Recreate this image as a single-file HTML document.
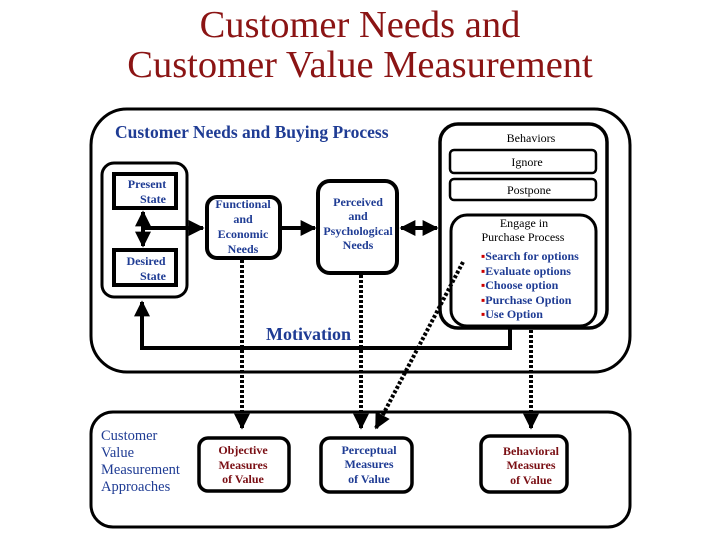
<!DOCTYPE html>
<html><head><meta charset="utf-8"><style>
body{margin:0;background:#fff;width:720px;height:540px;overflow:hidden}
text{font-family:"Liberation Serif",serif}
.n{fill:#1f3c94;font-weight:bold;font-size:12px}
.r{fill:#7a0f14;font-weight:bold;font-size:12px}
.k{fill:#000;font-size:12px}
</style></head><body>
<svg width="720" height="540" viewBox="0 0 720 540" xmlns="http://www.w3.org/2000/svg">
<defs>
<marker id="a" viewBox="0 0 10 10" refX="9" refY="5" markerWidth="4" markerHeight="4" orient="auto-start-reverse"><path d="M0,0L10,5L0,10z" fill="#000"/></marker>
</defs>
<text x="360" y="37" text-anchor="middle" font-size="38.5" fill="#8b1414">Customer Needs and</text>
<text x="360" y="77" text-anchor="middle" font-size="38.5" fill="#8b1414">Customer Value Measurement</text>

<rect x="91" y="109" width="539" height="263" rx="36" fill="none" stroke="#000" stroke-width="3"/>
<text x="115" y="138" font-size="17.5" font-weight="bold" fill="#1f3c94">Customer Needs and Buying Process</text>

<rect x="102" y="163" width="85" height="134" rx="12" fill="none" stroke="#000" stroke-width="3"/>
<rect x="114" y="174" width="62" height="34" fill="none" stroke="#000" stroke-width="4"/>
<rect x="114" y="250" width="62" height="35" fill="none" stroke="#000" stroke-width="4"/>
<text class="n" x="147" y="188" text-anchor="middle">Present</text>
<text class="n" x="153" y="203" text-anchor="middle">State</text>
<text class="n" x="146" y="265" text-anchor="middle">Desired</text>
<text class="n" x="153" y="280" text-anchor="middle">State</text>
<line x1="143" y1="212" x2="143" y2="246" stroke="#000" stroke-width="4" marker-start="url(#a)" marker-end="url(#a)"/>
<line x1="143" y1="228" x2="203" y2="228" stroke="#000" stroke-width="4" marker-end="url(#a)"/>

<rect x="207" y="197" width="73" height="61" rx="10" fill="none" stroke="#000" stroke-width="4"/>
<text class="n" x="243" y="208" text-anchor="middle">Functional</text>
<text class="n" x="243" y="223" text-anchor="middle">and</text>
<text class="n" x="243" y="238" text-anchor="middle">Economic</text>
<text class="n" x="243" y="253" text-anchor="middle">Needs</text>
<line x1="282" y1="228" x2="315" y2="228" stroke="#000" stroke-width="4" marker-end="url(#a)"/>

<rect x="318" y="181" width="79" height="92" rx="12" fill="none" stroke="#000" stroke-width="4"/>
<text class="n" x="358" y="206" text-anchor="middle">Perceived</text>
<text class="n" x="358" y="220" text-anchor="middle">and</text>
<text class="n" x="358" y="235" text-anchor="middle">Psychological</text>
<text class="n" x="358" y="249" text-anchor="middle">Needs</text>
<line x1="401" y1="228" x2="437" y2="228" stroke="#000" stroke-width="4" marker-start="url(#a)" marker-end="url(#a)"/>

<rect x="440" y="124" width="167" height="204" rx="18" fill="none" stroke="#000" stroke-width="3.5"/>
<text class="k" x="531" y="142" text-anchor="middle">Behaviors</text>
<rect x="450" y="150" width="146" height="23" rx="4" fill="none" stroke="#000" stroke-width="2.5"/>
<text class="k" x="527" y="166" text-anchor="middle">Ignore</text>
<rect x="450" y="179" width="146" height="21" rx="4" fill="none" stroke="#000" stroke-width="2.5"/>
<text class="k" x="529" y="194" text-anchor="middle">Postpone</text>
<rect x="451" y="215" width="145" height="111" rx="16" fill="none" stroke="#000" stroke-width="3"/>
<text class="k" x="524" y="227" text-anchor="middle">Engage in</text>
<text class="k" x="523" y="241" text-anchor="middle">Purchase Process</text>
<g class="n">
<text x="481" y="260"><tspan fill="#c00">▪</tspan>Search for options</text>
<text x="481" y="275"><tspan fill="#c00">▪</tspan>Evaluate options</text>
<text x="481" y="289"><tspan fill="#c00">▪</tspan>Choose option</text>
<text x="481" y="304"><tspan fill="#c00">▪</tspan>Purchase Option</text>
<text x="481" y="318"><tspan fill="#c00">▪</tspan>Use Option</text>
</g>

<text x="266" y="340" font-size="18" font-weight="bold" fill="#1f3c94">Motivation</text>
<polyline points="510,328 510,348 142,348 142,302" fill="none" stroke="#000" stroke-width="4" marker-end="url(#a)"/>

<g stroke="#000" stroke-width="4" stroke-dasharray="3,2" fill="none">
<line x1="242" y1="260" x2="242" y2="428" marker-end="url(#a)"/>
<line x1="361" y1="275" x2="361" y2="428" marker-end="url(#a)"/>
<line x1="531" y1="330" x2="531" y2="428" marker-end="url(#a)"/>
<line x1="463" y1="262" x2="376" y2="428" marker-end="url(#a)"/>
</g>

<rect x="91" y="412" width="539" height="115" rx="22" fill="none" stroke="#000" stroke-width="3"/>
<g font-size="14.5" fill="#1f3c94">
<text x="101" y="440">Customer</text>
<text x="101" y="457">Value</text>
<text x="101" y="474">Measurement</text>
<text x="101" y="491">Approaches</text>
</g>
<rect x="199" y="438" width="90" height="53" rx="9" fill="none" stroke="#000" stroke-width="3.5"/>
<text class="r" x="243" y="454" text-anchor="middle">Objective</text>
<text class="r" x="243" y="469" text-anchor="middle">Measures</text>
<text class="r" x="243" y="483" text-anchor="middle">of Value</text>
<rect x="321" y="438" width="91" height="54" rx="9" fill="none" stroke="#000" stroke-width="3.5"/>
<text class="n" x="369" y="454" text-anchor="middle">Perceptual</text>
<text class="n" x="369" y="468" text-anchor="middle">Measures</text>
<text class="n" x="369" y="483" text-anchor="middle">of Value</text>
<rect x="481" y="436" width="86" height="56" rx="9" fill="none" stroke="#000" stroke-width="3.5"/>
<text class="r" x="531" y="455" text-anchor="middle">Behavioral</text>
<text class="r" x="531" y="469" text-anchor="middle">Measures</text>
<text class="r" x="531" y="484" text-anchor="middle">of Value</text>
</svg>
</body></html>
